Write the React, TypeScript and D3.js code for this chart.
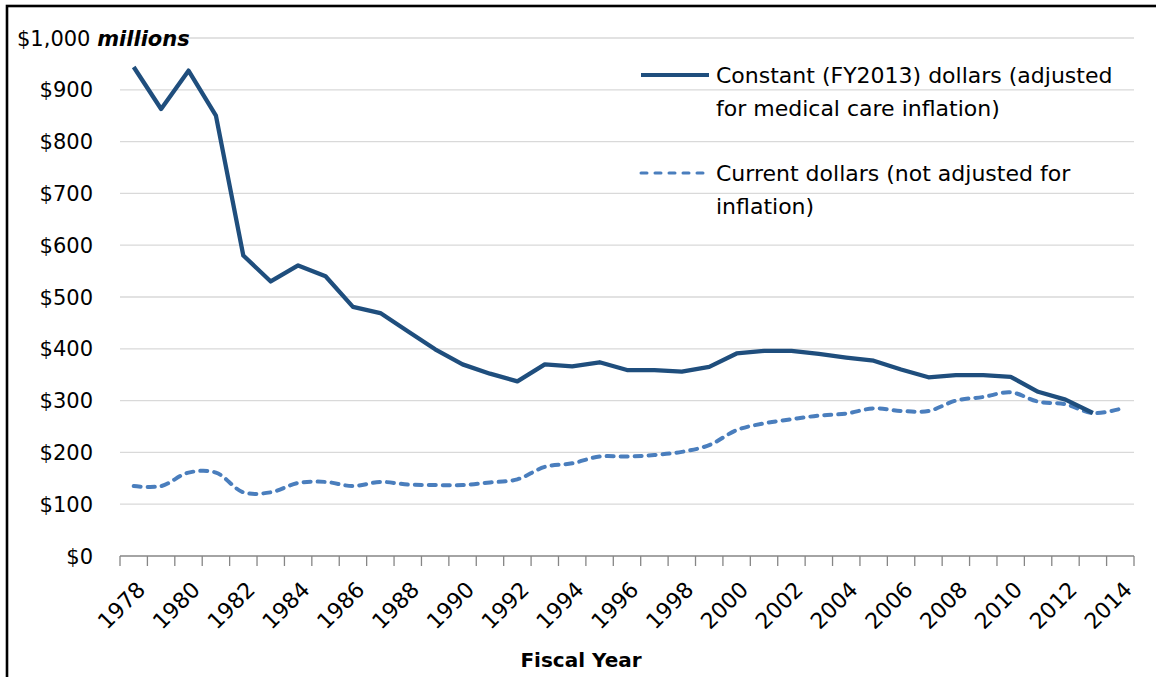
import React, { useEffect, useRef } from 'react';
import * as d3 from 'd3';

// fiscal years on the category axis
const years = d3.range(1978, 2015).map(String);

// constant FY2013 dollars, millions (no value for 2014)
const constantDollars = [
  944, 863, 937, 850, 580, 530, 561, 540, 481, 469,
  434, 399, 370, 352, 337, 370, 366, 374, 359, 359,
  356, 365, 391, 396, 396, 390, 383, 377, 360, 345,
  349, 349, 346, 317, 302, 276,
];

// current dollars, millions
const currentDollars = [
  135, 135, 161, 161, 123, 123, 141, 143, 135, 143,
  138, 137, 137, 142, 148, 172, 179, 192, 192, 195,
  201, 214, 243, 256, 264, 271, 275, 285, 280, 280,
  300, 307, 316, 298, 293, 276, 284,
];

const yTicks = [0, 100, 200, 300, 400, 500, 600, 700, 800, 900, 1000];

const legendItems = [
  { label: ['Constant (FY2013) dollars (adjusted', 'for medical care inflation)'], dash: false },
  { label: ['Current dollars (not adjusted for', 'inflation)'], dash: true },
];

const W = 1156;
const H = 677;
const FONT = "'DejaVu Sans', sans-serif";
const DARK = '#1f4e7d';
const LIGHT = '#4a7ebd';

export default function App() {
  const ref = useRef<SVGSVGElement>(null);

  useEffect(() => {
    const svg = d3.select(ref.current);
    svg.selectAll('*').remove();

    const left = 120, right = 1134, top = 38, bottom = 556;

    const x = d3.scaleBand().domain(years).range([left, right]);
    const y = d3.scaleLinear().domain([0, 1000]).range([bottom, top]);
    const cx = (yr: string) => (x(yr) as number) + x.bandwidth() / 2;

    svg.append('rect')
      .attr('width', W).attr('height', H).attr('fill', '#fff');

    // frame (only left & top visible in the crop)
    svg.append('rect')
      .attr('x', 7).attr('y', 6)
      .attr('width', W + 20).attr('height', H + 20)
      .attr('fill', 'none').attr('stroke', '#000').attr('stroke-width', 2.6);

    // gridlines
    svg.append('g').selectAll('line')
      .data(yTicks.filter(d => d > 0))
      .enter().append('line')
      .attr('x1', left).attr('x2', right)
      .attr('y1', d => y(d)).attr('y2', d => y(d))
      .attr('stroke', '#d9d9d9').attr('stroke-width', 1.3);

    // y labels
    const yl = svg.append('g')
      .style('font-family', FONT).style('font-size', '21px').attr('fill', '#000');
    yl.selectAll('text')
      .data(yTicks.filter(d => d < 1000))
      .enter().append('text')
      .attr('x', 93).attr('y', d => y(d) + 7.5)
      .attr('text-anchor', 'end')
      .text(d => d3.format('$,')(d));
    const top1000 = yl.append('text').attr('x', 17).attr('y', y(1000) + 7.5);
    top1000.append('tspan').text('$1,000 ');
    top1000.append('tspan').attr('font-weight', 'bold').attr('font-style', 'italic').text('millions');

    // x axis
    const xa = svg.append('g');
    xa.append('line')
      .attr('x1', left).attr('x2', right).attr('y1', bottom).attr('y2', bottom)
      .attr('stroke', '#868686').attr('stroke-width', 1.3);
    const edges = years.map(yr => x(yr) as number).concat([right]);
    xa.selectAll('line.tick')
      .data(edges)
      .enter().append('line')
      .attr('class', 'tick')
      .attr('x1', d => d).attr('x2', d => d)
      .attr('y1', bottom).attr('y2', bottom + 10)
      .attr('stroke', '#868686').attr('stroke-width', 1.3);

    xa.selectAll('text')
      .data(years.filter((_, i) => i % 2 === 0))
      .enter().append('text')
      .attr('transform', d => `translate(${cx(d) + 13},${bottom + 35}) rotate(-45)`)
      .attr('text-anchor', 'end')
      .style('font-family', FONT).style('font-size', '22px')
      .text(d => d);

    svg.append('text')
      .attr('x', 581).attr('y', 667)
      .attr('text-anchor', 'middle')
      .style('font-family', FONT).style('font-size', '20px').style('font-weight', 'bold')
      .text('Fiscal Year');

    // series
    const solid = d3.line<number>()
      .x((_, i) => cx(years[i]))
      .y(d => y(d));
    const smooth = d3.line<number>()
      .x((_, i) => cx(years[i]))
      .y(d => y(d))
      .curve(d3.curveCatmullRom.alpha(0.5));

    svg.append('path')
      .datum(currentDollars)
      .attr('d', smooth)
      .attr('fill', 'none').attr('stroke', LIGHT).attr('stroke-width', 4)
      .attr('stroke-dasharray', '7 7').attr('stroke-linecap', 'round');

    svg.append('path')
      .datum(constantDollars)
      .attr('d', solid)
      .attr('fill', 'none').attr('stroke', DARK).attr('stroke-width', 4.3)
      .attr('stroke-linejoin', 'round');

    // legend
    const lg = svg.append('g');
    legendItems.forEach((item, i) => {
      const ly = 75 + i * 98;
      lg.append('line')
        .attr('x1', 641).attr('x2', 709).attr('y1', ly).attr('y2', ly)
        .attr('stroke', item.dash ? LIGHT : DARK)
        .attr('stroke-width', item.dash ? 3 : 4)
        .attr('stroke-dasharray', item.dash ? '6 8' : null)
        .attr('stroke-linecap', item.dash ? 'round' : 'butt');
      item.label.forEach((t, j) => {
        lg.append('text')
          .attr('x', 716).attr('y', ly + 8 + j * 33)
          .style('font-family', FONT).style('font-size', '22px')
          .text(t);
      });
    });
  }, []);

  return (
    <svg ref={ref} width={W} height={H}
      style={{ position: 'absolute', left: 0, top: 0, display: 'block' }} />
  );
}
